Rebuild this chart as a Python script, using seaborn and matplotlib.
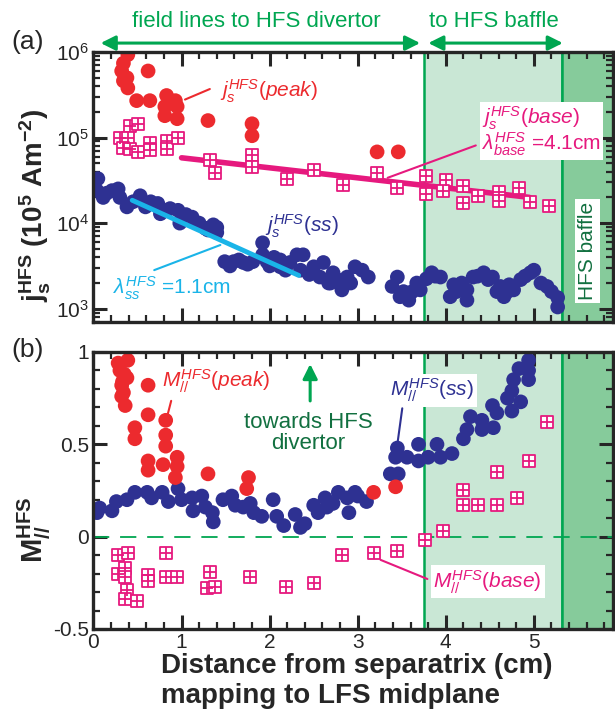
import matplotlib
matplotlib.use("Agg")
import numpy as np
import pandas as pd
import matplotlib.pyplot as plt
import seaborn as sns
from matplotlib.ticker import MultipleLocator, LogLocator, NullFormatter

# ---------------- data ----------------
# (a) j_s^HFS(peak)
peak_js_x = [0.39, 0.34, 0.32, 0.38, 0.34, 0.39, 0.62, 0.49, 0.64, 0.83, 0.81, 0.93, 0.95,
             0.81, 0.95, 1.30, 1.80, 1.80, 3.22, 3.46]
peak_js_y = [9.3e5, 7.4e5, 6.0e5, 5.0e5, 4.6e5, 3.8e5, 6.0e5, 2.7e5, 2.7e5, 3.1e5, 2.3e5, 2.7e5, 2.3e5,
             1.8e5, 1.66e5, 1.58e5, 1.45e5, 1.05e5, 6.8e4, 6.8e4]
# (a) j_s^HFS(base)
base_js_x = [0.41, 0.51, 0.30, 0.39, 0.34, 0.41, 0.51, 0.64, 0.64, 0.83, 0.83, 0.96, 1.32, 1.38,
             1.80, 1.80, 2.20, 2.50, 2.83, 3.22, 3.45, 3.77, 3.77, 4.00, 3.97, 4.20, 4.20, 4.37,
             4.60, 4.60, 4.83, 4.96, 5.17]
base_js_y = [1.38e5, 1.45e5, 1.0e5, 9.8e4, 7.6e4, 7.4e4, 6.8e4, 8.7e4, 7.1e4, 9.1e4, 7.4e4, 1.0e5,
             5.4e4, 3.9e4, 6.2e4, 4.5e4, 3.3e4, 4.2e4, 2.8e4, 3.9e4, 2.6e4, 3.6e4, 2.2e4, 3.2e4,
             2.4e4, 2.75e4, 1.7e4, 2.1e4, 2.3e4, 1.8e4, 2.6e4, 1.75e4, 1.6e4]
# (a) j_s^HFS(ss)  (log10 values)
ss_js_x = [0.00, 0.05, 0.04, 0.11, 0.15, 0.21, 0.28, 0.30, 0.38, 0.45, 0.53, 0.59, 0.65, 0.73, 0.76,
           0.80, 0.87, 0.96, 0.98, 1.05, 1.12, 1.15, 1.20, 1.27, 1.30, 1.36, 1.40, 1.40,
           1.49, 1.55, 1.59, 1.65, 1.70, 1.75, 1.81, 1.92, 1.92, 1.97, 2.00, 2.05, 2.12, 2.12,
           2.18, 2.23, 2.31, 2.35, 2.38, 2.45, 2.50, 2.57, 2.61, 2.67, 2.69, 2.72, 2.77, 2.82,
           2.88, 2.92, 2.97, 3.05, 3.12, 3.39, 3.45, 3.48, 3.52, 3.58, 3.62, 3.67, 3.71, 3.78,
           3.84, 3.88, 3.94, 4.05, 4.09, 4.12, 4.18, 4.24, 4.24, 4.31, 4.36, 4.43, 4.48, 4.53,
           4.58, 4.62, 4.66, 4.70, 4.72, 4.77, 4.85, 4.90, 4.96, 5.00, 5.08, 5.15, 5.20, 5.27, 5.27]
ss_js_log = [4.45, 4.52, 4.38, 4.30, 4.35, 4.38, 4.40, 4.30, 4.19, 4.25, 4.32, 4.19, 4.25, 4.23, 4.11,
             4.15, 4.17, 4.15, 4.00, 4.10, 4.07, 4.01, 4.00, 3.94, 3.92, 3.98, 3.95, 3.89,
             3.55, 3.50, 3.55, 3.57, 3.54, 3.52, 3.55, 3.77, 3.63, 3.55, 3.50, 3.60, 3.49, 3.57,
             3.45, 3.54, 3.63, 3.45, 3.63, 3.40, 3.49, 3.37, 3.54, 3.30, 3.30, 3.42, 3.34, 3.22,
             3.37, 3.30, 3.49, 3.45, 3.37, 3.26, 3.37, 3.14, 3.20, 3.10, 3.20, 3.30, 3.22, 3.35,
             3.42, 3.38, 3.37, 3.14, 3.28, 3.20, 3.30, 3.22, 3.10, 3.37, 3.38, 3.42, 3.34, 3.37,
             3.20, 3.26, 3.14, 3.20, 3.28, 3.22, 3.34, 3.38, 3.42, 3.45, 3.30, 3.26, 3.20, 3.13, 3.02]
# fitted decay lines (end points)
fit_base_x = [1.00, 4.95]
fit_base_y = [5.8e4, 2.0e4]
fit_ss_x = [0.44, 2.33]
fit_ss_y = [1.85e4, 2.45e3]

# (b) M_//^HFS(peak)
peak_M_x = [0.39, 0.28, 0.30, 0.35, 0.38, 0.33, 0.32, 0.34, 0.32, 0.36, 0.62, 0.62, 0.47, 0.47,
            0.82, 0.82, 0.82, 0.62, 0.62, 0.79, 0.95, 0.95, 0.93, 1.30, 1.76, 1.74, 3.18, 3.43]
peak_M_y = [0.955, 0.94, 0.90, 0.88, 0.86, 0.84, 0.82, 0.78, 0.76, 0.71, 0.82, 0.66, 0.59, 0.53,
            0.63, 0.55, 0.49, 0.41, 0.36, 0.39, 0.43, 0.38, 0.32, 0.34, 0.32, 0.26, 0.24, 0.27]
# (b) M_//^HFS(ss)
ss_M_x = [0.04, 0.07, 0.21, 0.26, 0.38, 0.47, 0.61, 0.66, 0.78, 0.85, 0.96, 1.00, 1.12, 1.13,
          1.23, 1.27, 1.35, 1.36, 1.47, 1.57, 1.61, 1.70, 1.78, 1.82, 1.91, 2.04, 2.08, 2.16,
          2.29, 2.35, 2.40, 2.50, 2.55, 2.63, 2.65, 2.72, 2.78, 2.88, 2.90, 2.97, 3.00, 3.10,
          3.37, 3.43, 3.45, 3.46, 3.56, 3.69, 3.69, 3.80, 3.90, 3.94, 4.07, 4.20, 4.24, 4.28,
          4.41, 4.41, 4.54, 4.53, 4.58, 4.70, 4.75, 4.77, 4.75, 4.85, 4.83, 4.94, 4.94, 4.94]
ss_M_y = [0.13, 0.155, 0.14, 0.19, 0.20, 0.24, 0.24, 0.21, 0.24, 0.19, 0.26, 0.20, 0.21, 0.14,
          0.22, 0.16, 0.13, 0.08, 0.20, 0.22, 0.17, 0.16, 0.18, 0.13, 0.11, 0.20, 0.11, 0.06,
          0.12, 0.05, 0.07, 0.17, 0.13, 0.21, 0.16, 0.18, 0.24, 0.21, 0.13, 0.24, 0.22, 0.19,
          0.34, 0.43, 0.48, 0.34, 0.43, 0.50, 0.41, 0.43, 0.50, 0.43, 0.45, 0.53, 0.58, 0.65,
          0.63, 0.58, 0.59, 0.71, 0.67, 0.75, 0.79, 0.85, 0.68, 0.73, 0.91, 0.90, 0.955, 0.85]
# (b) M_//^HFS(base)
base_M_x = [0.28, 0.39, 0.28, 0.36, 0.36, 0.38, 0.36, 0.49, 0.62, 0.62, 0.82, 0.82, 0.95, 1.32,
            1.29, 1.38, 1.78, 2.19, 2.50, 2.82, 3.18, 3.45, 3.76, 3.97, 4.20, 4.20, 4.37, 4.58,
            4.58, 4.81, 4.94, 5.15]
base_M_y = [-0.10, -0.09, -0.20, -0.17, -0.22, -0.29, -0.34, -0.35, -0.21, -0.24, -0.09, -0.22,
            -0.22, -0.19, -0.28, -0.27, -0.22, -0.27, -0.25, -0.10, -0.09, -0.08, -0.02, 0.03,
            0.25, 0.17, 0.17, 0.17, 0.35, 0.21, 0.41, 0.62]

x_ticks = [0, 1, 2, 3, 4, 5]
m_ticks = [-0.5, 0, 0.5, 1]
m_tick_labels = ["-0.5", "0", "0.5", "1"]

# ---------------- style ----------------
RED = "#EC2A2E"
NAVY = "#2E3192"
PINK = "#E6197E"
CYAN = "#1AB4E8"
GREEN = "#00A651"
DKGREEN = "#127040"
LIGHT = "#C9E7D5"
DARK = "#86CB9B"

sns.set_theme(style="ticks")
plt.rcParams["font.family"] = ["Liberation Sans", "DejaVu Sans"]
plt.rcParams["mathtext.fontset"] = "custom"
plt.rcParams["mathtext.rm"] = "Liberation Sans"
plt.rcParams["mathtext.it"] = "Liberation Sans:italic"
plt.rcParams["mathtext.bf"] = "Liberation Sans:bold"
plt.rcParams["axes.unicode_minus"] = False

fig = plt.figure(figsize=(6.15, 7.15), dpi=100)
ax1 = fig.add_axes([0.152, 0.5497, 0.845, 0.3776])
ax2 = fig.add_axes([0.152, 0.1203, 0.845, 0.3874])

for ax in (ax1, ax2):
    ax.set_facecolor("white")
    ax.axvspan(3.75, 5.32, facecolor=LIGHT, edgecolor=GREEN, lw=1.8, zorder=0)
    ax.axvspan(5.32, 5.9, facecolor=DARK, edgecolor=GREEN, lw=1.8, zorder=0)
    ax.set_xlim(0, 5.9)
    ax.xaxis.set_major_locator(MultipleLocator(1))
    ax.xaxis.set_minor_locator(MultipleLocator(0.2))
    ax.tick_params(which="both", direction="in", top=True, right=True, labelsize=15, pad=3)
    ax.tick_params(which="major", length=10, width=2.2)
    ax.tick_params(which="minor", length=5, width=1.6)
    for sp in ax.spines.values():
        sp.set_linewidth(2.4)
        sp.set_zorder(10)

DOT = 112
SQ = 82

# ---- panel (a)
ax1.set_yscale("log")
ax1.set_ylim(700, 1e6)
ax1.yaxis.set_major_locator(LogLocator(base=10, numticks=10))
ax1.yaxis.set_minor_locator(LogLocator(base=10, subs=np.arange(2, 10), numticks=20))
ax1.yaxis.set_minor_formatter(NullFormatter())
ax1.tick_params(labelbottom=False)

sns.lineplot(x=fit_base_x, y=fit_base_y, ax=ax1, color=PINK, lw=4, zorder=3)
sns.scatterplot(x=ss_js_x, y=np.power(10.0, ss_js_log), ax=ax1, color=NAVY, s=DOT,
                edgecolor="none", zorder=4, legend=False)
sns.lineplot(x=fit_ss_x, y=fit_ss_y, ax=ax1, color=CYAN, lw=3.5, zorder=5)
sns.scatterplot(x=base_js_x, y=base_js_y, ax=ax1, marker="s", s=SQ, facecolor="white",
                edgecolor=PINK, linewidth=1.3, zorder=6, legend=False)
sns.scatterplot(x=base_js_x, y=base_js_y, ax=ax1, marker="+", s=SQ, color=PINK,
                linewidth=1.3, zorder=7, legend=False)
sns.scatterplot(x=peak_js_x, y=peak_js_y, ax=ax1, color=RED, s=DOT, edgecolor="none",
                zorder=8, legend=False)
ax1.set_xlabel("")
ax1.set_ylabel(r"$\mathbf{j_s^{HFS}}$ (10$^{\mathbf{5}}$ Am$^{\mathbf{-2}}$)", fontsize=20,
               fontweight="bold")
ax1.yaxis.set_label_coords(-0.078, 0.43)

# annotations (a)
ax1.annotate("", xy=(1.01, 2.7e5), xytext=(1.35, 3.8e5),
             arrowprops=dict(arrowstyle="-", color=RED, lw=1.5))
ax1.text(1.44, 3.5e5, r"$\mathit{j_s^{HFS}(peak)}$", color=RED, fontsize=15, va="center", ha="left")
ax1.annotate("", xy=(3.31, 3.3e4), xytext=(4.37, 8.3e4),
             arrowprops=dict(arrowstyle="-", color=PINK, lw=1.5))
ax1.text(4.41, 1.19e5, r"$\mathit{j_s^{HFS}(base)}$" + "\n" + r"$\lambda_{\mathit{base}}^{\mathit{HFS}}$ =4.1cm",
         color=PINK, fontsize=15, va="center", ha="left", linespacing=0.95, zorder=9,
         bbox=dict(facecolor="white", edgecolor="none", pad=1.5))
ax1.text(1.95, 9.3e3, r"$\mathit{j_s^{HFS}(ss)}$", color=NAVY, fontsize=15, va="center", ha="left")
ax1.annotate("", xy=(0.66, 2.75e3), xytext=(1.47, 5.7e3),
             arrowprops=dict(arrowstyle="-", color=CYAN, lw=1.5))
ax1.text(0.22, 1.75e3, r"$\lambda_{\mathit{ss}}^{\mathit{HFS}}$ =1.1cm", color=CYAN, fontsize=15,
         va="center", ha="left")
ax1.text(5.61, 4.7e3, "HFS baffle", color=DKGREEN, fontsize=15, rotation=90, va="center",
         ha="center", zorder=9, bbox=dict(facecolor="white", edgecolor="none", pad=2))

xt = ax1.get_xaxis_transform()
ax1.annotate("", xy=(0.05, 1.033), xytext=(3.74, 1.033), xycoords=xt, textcoords=xt,
             arrowprops=dict(arrowstyle="<|-|>", color=GREEN, lw=2.2, mutation_scale=22),
             annotation_clip=False)
ax1.annotate("", xy=(3.77, 1.033), xytext=(5.36, 1.033), xycoords=xt, textcoords=xt,
             arrowprops=dict(arrowstyle="<|-|>", color=GREEN, lw=2.2, mutation_scale=22),
             annotation_clip=False)
ax1.text(1.85, 1.112, "field lines to HFS divertor", transform=xt, color=GREEN, fontsize=16,
         ha="center", va="center")
ax1.text(4.55, 1.112, "to HFS baffle", transform=xt, color=GREEN, fontsize=16,
         ha="center", va="center")

# ---- panel (b)
ax2.set_ylim(-0.5, 1)
ax2.set_yticks(m_ticks, labels=m_tick_labels)
ax2.yaxis.set_minor_locator(MultipleLocator(0.1))
ax2.set_xticks(x_ticks, labels=[str(v) for v in x_ticks])
ax2.axhline(0, color=GREEN, lw=1.3, ls=(0, (9, 6)), zorder=1)

sns.scatterplot(x=ss_M_x, y=ss_M_y, ax=ax2, color=NAVY, s=DOT, edgecolor="none", zorder=4,
                legend=False)
sns.scatterplot(x=peak_M_x, y=peak_M_y, ax=ax2, color=RED, s=DOT, edgecolor="none", zorder=5,
                legend=False)
sns.scatterplot(x=base_M_x, y=base_M_y, ax=ax2, marker="s", s=SQ, facecolor="white",
                edgecolor=PINK, linewidth=1.3, zorder=6, legend=False)
sns.scatterplot(x=base_M_x, y=base_M_y, ax=ax2, marker="+", s=SQ, color=PINK,
                linewidth=1.3, zorder=7, legend=False)

ax2.set_ylabel(r"$\mathbf{M_{//}^{HFS}}$", fontsize=21)
ax2.yaxis.set_label_coords(-0.078, 0.36)
ax2.set_xlabel("Distance from separatrix (cm)\nmapping to LFS midplane", fontsize=20,
               fontweight="bold", ha="left", multialignment="left", va="top", linespacing=1.2)
ax2.xaxis.set_label_coords(0.13, -0.085)

ax2.annotate("", xy=(0.835, 0.648), xytext=(0.89, 0.75),
             arrowprops=dict(arrowstyle="-", color=RED, lw=1.5))
ax2.text(0.78, 0.84, r"$\mathit{M_{//}^{HFS}(peak)}$", color=RED, fontsize=15, va="center", ha="left")
ax2.annotate("", xy=(2.46, 0.95), xytext=(2.46, 0.72),
             arrowprops=dict(arrowstyle="-|>", color=GREEN, lw=2.2, mutation_scale=22))
ax2.text(2.44, 0.56, "towards HFS\ndivertor", color=DKGREEN, fontsize=16, ha="center",
         va="center", linespacing=1.0)
ax2.annotate("", xy=(3.45, 0.50), xytext=(3.51, 0.71),
             arrowprops=dict(arrowstyle="-", color=NAVY, lw=1.5))
ax2.text(3.37, 0.79, r"$\mathit{M_{//}^{HFS}(ss)}$", color=NAVY, fontsize=15, va="center",
         ha="left", zorder=9, bbox=dict(facecolor="white", edgecolor="none", pad=2))
ax2.annotate("", xy=(3.23, -0.12), xytext=(3.82, -0.235),
             arrowprops=dict(arrowstyle="-", color=PINK, lw=1.5))
ax2.text(3.86, -0.245, r"$\mathit{M_{//}^{HFS}(base)}$", color=PINK, fontsize=15, va="center",
         ha="left", zorder=9, bbox=dict(facecolor="white", edgecolor="none", pad=2))

fig.text(28 / 615, 1 - 42 / 715, "(a)", fontsize=19, ha="center", va="center")
fig.text(28 / 615, 1 - 350 / 715, "(b)", fontsize=19, ha="center", va="center")

fig.savefig("out.png", dpi=100)
